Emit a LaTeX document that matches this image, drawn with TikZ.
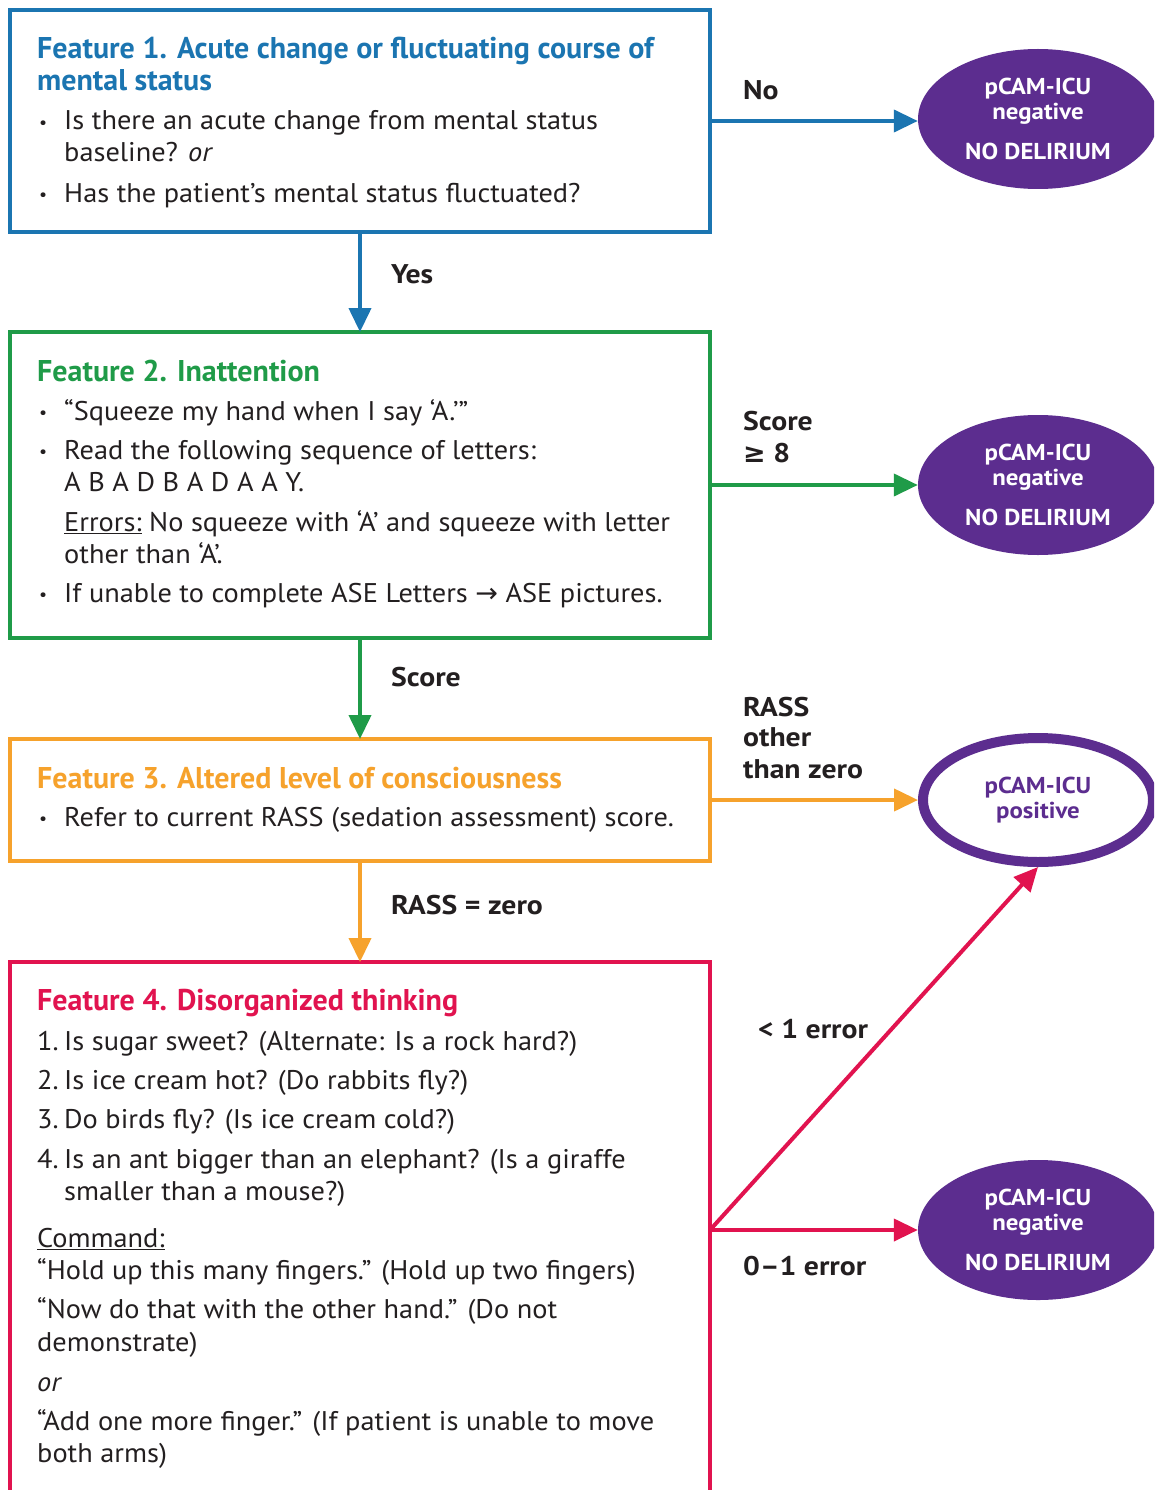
\documentclass[tikz,border=0pt]{standalone}
\usepackage{fontspec}
\setmainfont{PT Sans}[FakeStretch=1.05]
\newfontfamily\titlefont{PT Sans}
\newfontfamily\labfont{PT Sans}[FakeStretch=1.1]
\newfontfamily\ovalfont{PT Sans}[FakeStretch=1.08]
\newfontfamily\symfont{DejaVu Sans}
\usetikzlibrary{arrows.meta,shapes.geometric}

\definecolor{fblue}{HTML}{1B75B1}
\definecolor{fgreen}{HTML}{1F9B48}
\definecolor{forange}{HTML}{F6A22C}
\definecolor{fred}{HTML}{E1134F}
\definecolor{fpurple}{HTML}{5C2D8F}
\definecolor{ink}{HTML}{231F20}

% bullet and list number, both hanging 27pt
\newcommand\bul{\makebox[27pt][l]{\hspace*{2pt}\raisebox{1.5pt}{\fontsize{17}{17}\selectfont•}}}
\newcommand\num[1]{\makebox[27pt][l]{#1}}

\begin{document}
\begin{tikzpicture}[x=1pt,y=-1pt,
  frame/.style={rectangle, draw, line width=4pt, inner sep=0pt, outer sep=0pt,
    minimum width=700pt},
  txt/.style={anchor=base west, inner sep=0pt, text=ink,
    font=\fontsize{27}{30}\selectfont},
  ttl/.style={anchor=base west, inner sep=0pt,
    font=\titlefont\bfseries\fontsize{30}{32}\selectfont},
  lab/.style={anchor=base west, inner sep=0pt, text=ink,
    font=\labfont\bfseries\fontsize{27}{30}\selectfont},
  verdict/.style={ellipse, fill=fpurple, minimum width=240pt, minimum height=140pt,
    inner sep=0pt, text=white, align=center,
    font=\ovalfont\bfseries\fontsize{23}{25}\selectfont},
  flow/.style={line width=4pt, -{Triangle[length=24pt,width=22pt]}}]

\useasboundingbox[fill=white] (0,0) rectangle (1154,1490);
\clip (0,0) rectangle (1154,1490);

% feature boxes
\node[frame, draw=fblue,   minimum height=222pt] (b1) at (360,121) {};
\node[frame, draw=fgreen,  minimum height=306pt] (b2) at (360,485) {};
\node[frame, draw=forange, minimum height=122pt] (b3) at (360,800) {};
\node[frame, draw=fred,    minimum height=560pt] (b4) at (360,1242) {};

% outcomes
\node[verdict] (e1) at (1038,119) {pCAM-ICU\\negative\\[15pt]NO DELIRIUM};
\node[verdict] (e2) at (1038,485) {pCAM-ICU\\negative\\[15pt]NO DELIRIUM};
\node[verdict, fill=white, draw=fpurple, line width=10pt, minimum width=230pt,
  minimum height=124pt, text=fpurple] (e3) at (1038,800) {pCAM-ICU\\positive};
\node[verdict] (e4) at (1038,1230) {pCAM-ICU\\negative\\[15pt]NO DELIRIUM};

% connectors
\draw[flow, fblue]   (b1.south) -- (b2.north);
\draw[flow, fgreen]  (b2.south) -- (b3.north);
\draw[flow, forange] (b3.south) -- (b4.north);
\draw[flow, fblue]   (b1.east) -- (b1.east -| e1.west);
\draw[flow, fgreen]  (b2.east) -- (b2.east -| e2.west);
\draw[flow, forange] (b3.east) -- (b3.east -| e3.west);
\coordinate (fork) at (b4.east |- e4.west);
\draw[flow, fred] (fork) -- (e4.west);
\draw[flow, fred] (fork) -- (e3.south);

% connector labels
\node[lab] (lyes) at (391,283) {Yes};
\node[lab] (lsc2) at (391,686) {Score};
\node[lab] (lrz)  at (391,914) {RASS = zero};
\node[lab] (lno)  at (743,100) {No};
\node[lab] (lsc)  at (743,430) {Score};
\node[lab] (lge)  at (743,462) {{\symfont ≥} 8};
\node[lab] (lr1)  at (743,716) {RASS};
\node[lab] (lr2)  at (743,746) {other};
\node[lab] (lr3)  at (743,778) {than zero};
\node[lab] (le1)  at (758,1038) {< 1 error};
\node[lab] (le2)  at (743,1275) {0–1 error};

% Feature 1
\node[ttl, text=fblue] (h1a) at (37,59) {Feature 1. Acute change or fluctuating course of};
\node[ttl, text=fblue] (h1b) at (37,91) {mental status};
\node[txt] (p1a) at (37,130) {\bul Is there an acute change from mental status};
\node[txt] (p1b) at (64,162) {baseline? \textit{or}};
\node[txt] (p1c) at (37,202) {\bul Has the patient’s mental status fluctuated?};

% Feature 2
\node[ttl, text=fgreen] (h2) at (37,381) {Feature 2. Inattention};
\node[txt] (p2a) at (37,420) {\bul “Squeeze my hand when I say ‘A.’”};
\node[txt] (p2b) at (37,459) {\bul Read the following sequence of letters:};
\node[txt] (p2c) at (64,491) {A B A D B A D A A Y.};
\node[txt] (p2d) at (64,531) {\underline{Errors:} No squeeze with ‘A’ and squeeze with letter};
\node[txt] (p2e) at (64,563) {other than ‘A’.};
\node[txt] (p2f) at (37,602) {\bul If unable to complete ASE Letters {\symfont→} ASE pictures.};

% Feature 3
\node[ttl, text=forange] (h3) at (37,788) {Feature 3. Altered level of consciousness};
\node[txt] (p3a) at (37,826) {\bul Refer to current RASS (sedation assessment) score.};

% Feature 4
\node[ttl, text=fred] (h4) at (37,1010) {Feature 4. Disorganized thinking};
\node[txt] (q1) at (37,1050) {\num{1.}Is sugar sweet? (Alternate: Is a rock hard?)};
\node[txt] (q2) at (37,1089) {\num{2.}Is ice cream hot? (Do rabbits fly?)};
\node[txt] (q3) at (37,1128) {\num{3.}Do birds fly? (Is ice cream cold?)};
\node[txt] (q4) at (37,1168) {\num{4.}Is an ant bigger than an elephant? (Is a giraffe};
\node[txt] (q4b) at (64,1200) {smaller than a mouse?)};
\node[txt] (c0) at (37,1247) {\underline{Command:}};
\node[txt] (c1) at (37,1279) {“Hold up this many fingers.” (Hold up two fingers)};
\node[txt] (c2) at (37,1318) {“Now do that with the other hand.” (Do not};
\node[txt] (c3) at (37,1351) {demonstrate)};
\node[txt] (c4) at (37,1391) {\textit{or}};
\node[txt] (c5) at (37,1430) {“Add one more finger.” (If patient is unable to move};
\node[txt] (c6) at (37,1462) {both arms)};
\end{tikzpicture}
\end{document}
